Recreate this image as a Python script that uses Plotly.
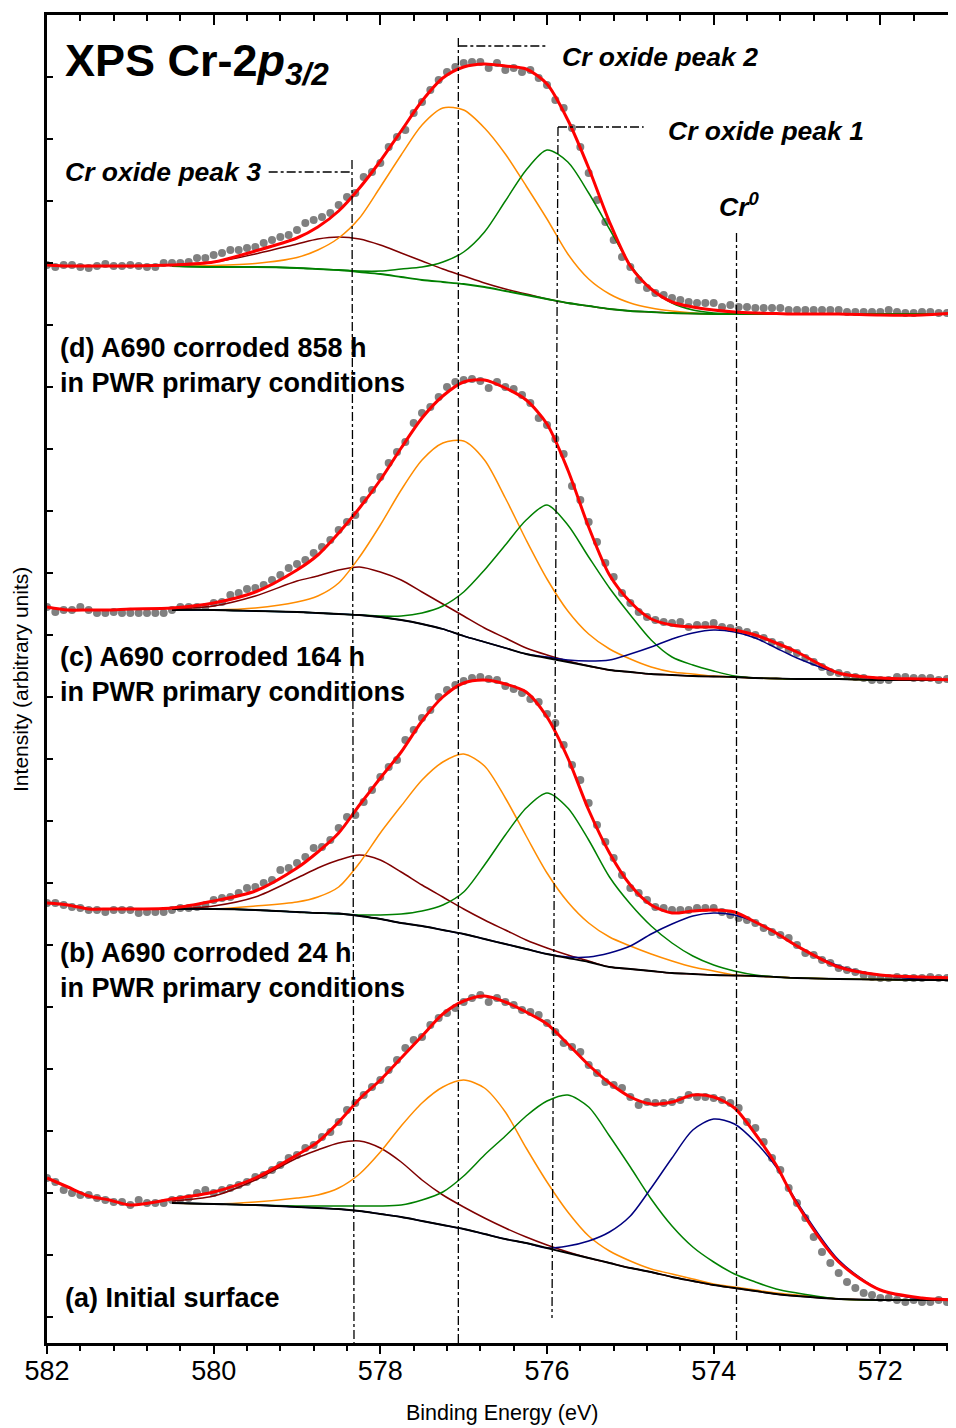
import numpy as np
import plotly.graph_objects as go

N = None
# ---------------- energies ----------------
grid_energy = [582.0, 581.75, 581.5, 581.25, 581.0, 580.5, 580.0, 579.5, 579.0, 578.75, 578.5,
               578.25, 578.0, 577.75, 577.5, 577.25, 577.0, 576.75, 576.5, 576.25, 576.0,
               575.75, 575.5, 575.25, 575.0, 574.75, 574.5, 574.25, 574.0, 573.75, 573.5,
               573.25, 573.0, 572.5, 572.0, 571.5, 571.1]
dot_energy = list(np.round(582.0 - 0.1 * np.arange(110), 1))

# stacking offsets of the four spectra (arbitrary units)
offsets = {"a": 41, "b": 363, "c": 663, "d": 1029}

# ---------------- (d) A690 corroded 858 h ----------------
dots_d = [49,47,49,49,47,46,48,50,48,48, 49,48,47,47,51,51,51,52,56,56,
          59,61,64,64,66,67,71,74,77,79, 84,91,94,97,101,109,117,121,137,142,
          151,167,177,184,201,212,224,234,242,247, 251,252,252,246,251,244,246,242,244,236,
          229,214,206,186,167,141,114,92,74,57, 47,34,26,21,19,16,14,12,11,11,
          11,7,9,7,7,6,6,6,6,4, 4,4,4,4,4,4,2,2,2,2, 2,4,2,1,1,2,2,1,1,1]
env_d = [49,48,48,48,48,49,52,63,76,87,103,126,153,183,213,236,247,250,248,245,230,194,146,92,48,
         25,12,7,4,2,1,0.5,0,0,-1,-1,1]
bg_d = [N,N,N,N,N,48,47,47,46,45,44,42,40,37,34,32,30,27,23,19,15,11,8,5,3,2,1,0.5,0,0,0,0,0,0,0,0,0]
p3_d = [N,N,N,N,N,49,52,60,70,75,77,75,69,61,53,45,38,31,25,20,15,11,8,5,3,2,1,0.5,0,0,0,0,0,0,0,0,0]
p2_d = [N,N,N,N,N,48,48.5,50.5,56.5,64,76,96,127,159,189,206,204,186,160,128,95,60,35,20,11,6,3,1,0,0,0,0,0,0,0,0,0]
p1_d = [N,N,N,N,N,48,47,47,46,45,44,43,43,45,47,52,62,82,113,144,164,152,121,85,49,25,11,4,1,0,0,0,0,0,0,0,0]

# ---------------- (c) A690 corroded 164 h ----------------
dots_c = [73,68,70,70,73,70,67,67,68,67, 67,67,67,67,67,70,73,73,73,73,
          77,78,85,87,91,92,95,100,105,112, 116,120,127,133,140,150,158,165,180,190,
          203,217,228,238,257,267,273,283,293,298, 300,301,299,292,298,293,291,285,277,262,
          255,241,226,194,180,158,138,117,103,87, 77,68,63,60,58,57,58,53,55,55,
          57,53,52,50,48,45,42,38,35,30, 27,22,18,13,8,7,5,3,2,0, 0,0,3,3,2,2,2,0,1,0]
env_c = [73,70,70,70,71,72,77,88,110,125,147,172,200,232,262,284,298,300,292,280,256,210,153,105,78,
         61,55,53,53,50,45,37,28,7,2,1,0]
bg_c = [N,N,N,N,N,70,70,69,68,67,66,65,63,60,56,51,44,38,32,26,22,18,14,10,8,6,5,4,3.5,3,2,1.5,1,1,0,0,0]
p3_c = [N,N,N,N,N,71,74,84,99,104,110,113,108,100,88,76,64,52,42,32,25,19,14,10,8,6,5,4,3.5,3,2,1.5,1,1,0,0,0]
p2_c = [N,N,N,N,N,70,70,72,78,84,97,123,155,190,220,237,239,220,182,140,101,69,46,31,21,13,8,6,4,3,2,1.5,1,1,0,0,0]
p1_c = [N,N,N,N,N,70,70,69,68,67,66,65,64,64,67,74,88,110,135,160,175,155,123,92,65,40,23,15,9,4,2,1.5,1,1,0,0,0]
cr0_c = [N,N,N,N,N,70,70,69,68,67,66,65,63,60,56,51,44,38,32,26,23,20,19,20,26,33,41,47,50,48,42,32,22,7,1,0,0]

# ---------------- (b) A690 corroded 24 h ----------------
dots_b = [77,77,75,73,72,70,70,68,70,70, 70,67,68,68,68,70,72,72,73,75,
          80,82,83,87,92,93,97,100,110,112, 117,123,132,133,140,152,163,165,178,190,
          203,213,220,240,250,262,270,283,290,295, 299,302,303,301,300,294,291,287,281,278,
          266,257,235,215,200,177,155,138,122,105, 92,87,80,73,72,70,70,70,72,72,
          72,68,65,62,60,57,52,48,45,42, 35,27,25,20,17,12,10,8,5,3, 2,2,3,2,2,2,3,2,2,2]
env_b = [77,75,71,71,71,72,79,89,112,128,147,175,202,228,259,283,297,300,296,288,263,222,170,127,95,
         75,67,69,70,68,58,47,34,13,5,3,2]
bg_b = [N,N,N,N,N,71,71,70,68,67,66.5,64,61,57,54,50,46,41,36,31,26,22,18,13,11,9,7,6,5,4.5,4,3,2,1,0.5,0,0]
p3_b = [N,N,N,N,N,71,74,83,102,112,120,125,120,108,95,83,71,60,50,40,32,25,19,13,11,9,7,6,5,4.5,4,3,2,1,0.5,0,0]
p2_b = [N,N,N,N,N,71,71,74,78,83,93,117,147,174,200,218,226,214,182,144,107,78,57,43,34,26,19,13,9,5,4,3,2,1,0.5,0,0]
p1_b = [N,N,N,N,N,71,71,70,68,67,66,65,65,66,69,75,88,115,145,172,187,172,140,103,76,54,37,24,15,9,5,3,2,1,0.5,0,0]
cr0_b = [N,N,N,N,N,71,71,70,68,67,66.5,64,61,57,54,50,46,41,36,31,26,23,23,27,34,46,56,64,67,65,58,47,34,14,5,1,0]

# ---------------- (a) Initial surface ----------------
dots_a = [124,120,112,109,107,107,104,102,100,100, 97,102,99,99,99,102,103,104,109,112,
          109,112,114,117,120,125,127,132,137,144, 147,154,157,165,170,180,192,199,207,215,
          222,232,242,254,262,265,277,284,289,294, 300,304,307,300,304,300,297,292,290,287,
          279,270,259,255,250,237,229,220,217,214, 205,197,200,199,199,200,202,207,205,205,
          204,202,199,194,180,174,160,144,132,114, 99,84,65,50,39,29,20,14,9,7, 4,4,2,0,2,0,0,2,0,0]
env_a = [124,115,106,102,97,103,110,124,147,160,180,203,222,244,266,288,301,306,300,290,278,258,237,219,205,
         198,200,207,205,194,168,137,98,40,12,4,2]
bg_a = [N,N,N,N,N,99,98,97,95,94,93,91,88,85,81,77,73,68,63,59,54,49,44,39,34,30,25,21,17,14,11,8,6,3,2,2,2]
p3_a = [N,N,N,N,N,101,106,122,144,152,159,161,154,140,122,107,95,84,74,65,57,50,44,39,34,30,25,21,17,14,11,8,6,3,2,2,2]
p2_a = [N,N,N,N,N,99,98,100,104,107,114,128,150,176,199,215,222,214,190,154,120,90,66,51,41,33,28,23,18,15,12,9,7,3,2,2,2]
p1_a = [N,N,N,N,N,99,98,97,96,96,96,96,96,97,102,110,126,147,166,186,201,207,195,166,135,103,76,55,40,28,20,13,9,3,2,2,2]
cr0_a = [N,N,N,N,N,99,98,97,95,94,93,91,88,85,81,77,73,68,63,59,54,56,61,70,86,114,144,172,183,178,160,135,100,42,12,3,2]

# reference lines: peak energies (eV)
peak_labels = ["Cr oxide peak 3", "Cr oxide peak 2", "Cr oxide peak 1", "Cr<sup>0</sup>"]
peak_energy_top = [578.34, 577.064, 575.868, 573.726]
peak_energy_bottom = [578.316, 577.064, 575.94, 573.726]

spectra = [
    ("a", dots_a, env_a, bg_a, [p3_a, p2_a, p1_a, cr0_a], "black"),
    ("b", dots_b, env_b, bg_b, [p3_b, p2_b, p1_b, cr0_b], "black"),
    ("c", dots_c, env_c, bg_c, [p3_c, p2_c, p1_c, cr0_c], "black"),
    ("d", dots_d, env_d, bg_d, [p3_d, p2_d, p1_d, None], "#008000"),
]
comp_colors = ["#7f0000", "#ff8c00", "#008000", "#00007f"]


def shift(vals, off):
    return [None if v is None else v + off for v in vals]


fig = go.Figure()
for key, dots, env, bg, comps, bgcol in spectra:
    off = offsets[key]
    fig.add_trace(go.Scatter(x=dot_energy, y=shift(dots, off), mode="markers",
                             marker=dict(color="#808080", size=8), showlegend=False))
    for comp, col in zip(comps, comp_colors):
        if comp is None:
            continue
        fig.add_trace(go.Scatter(x=grid_energy, y=shift(comp, off), mode="lines",
                                 line=dict(color=col, width=1.5, shape="spline", smoothing=0.8),
                                 showlegend=False))
    fig.add_trace(go.Scatter(x=grid_energy, y=shift(bg, off), mode="lines",
                             line=dict(color=bgcol, width=1.8, shape="spline", smoothing=0.8),
                             showlegend=False))
    fig.add_trace(go.Scatter(x=grid_energy, y=shift(env, off), mode="lines",
                             line=dict(color="#ff0000", width=3, shape="spline", smoothing=0.8),
                             showlegend=False, xaxis="x2" if key == "d" else "x"))

# -------- dash-dot reference lines --------
line_top = [1183, 1305, 1216, 1110]
line_bottom = [0, 0, 25, 0]
dd = dict(color="black", width=1.3, dash="dashdot")
for et, eb, yt, yb in zip(peak_energy_top, peak_energy_bottom, line_top, line_bottom):
    fig.add_shape(type="line", xref="x", yref="y", x0=et, x1=eb, y0=yt, y1=yb, line=dd)
# horizontal leaders to labels
fig.add_shape(type="line", xref="x", yref="y", x0=579.34, x1=peak_energy_top[0], y0=1171, y1=1171, line=dd)
fig.add_shape(type="line", xref="x", yref="y", x0=peak_energy_top[1], x1=576.02, y0=1297, y1=1297, line=dd)
fig.add_shape(type="line", xref="x", yref="y", x0=peak_energy_top[2], x1=574.84, y0=1216, y1=1216, line=dd)

FONT = "Liberation Sans, Arial, Helvetica, sans-serif"
lab = dict(family=FONT, size=26.5, color="black")
fig.add_annotation(x=579.408, y=1171, xref="x", yref="y", text="<b><i>" + peak_labels[0] + "</i></b>",
                   showarrow=False, xanchor="right", yanchor="middle", font=lab)
fig.add_annotation(x=575.844, y=1286, xref="x", yref="y", text="<b><i>" + peak_labels[1] + "</i></b>",
                   showarrow=False, xanchor="left", yanchor="middle", font=lab)
fig.add_annotation(x=574.572, y=1212, xref="x", yref="y", text="<b><i>" + peak_labels[2] + "</i></b>",
                   showarrow=False, xanchor="left", yanchor="middle", font=lab)
fig.add_annotation(x=573.70, y=1138, xref="x", yref="y", text="<b><i>" + peak_labels[3] + "</i></b>",
                   showarrow=False, xanchor="center", yanchor="middle", font=lab)

big = dict(family=FONT, size=27, color="black")
spec_labels = [
    ("(d) A690 corroded 858 h<br>in PWR primary conditions", 581.868, 978),
    ("(c) A690 corroded 164 h<br>in PWR primary conditions", 581.868, 669),
    ("(b) A690 corroded 24 h<br>in PWR primary conditions", 581.868, 373),
    ("(a) Initial surface", 581.808, 45),
]
for txt, xe, yv in spec_labels:
    fig.add_annotation(x=xe, y=yv, xref="x", yref="y", text="<b>" + txt + "</b>", showarrow=False,
                       xanchor="left", yanchor="middle", align="left", font=big)

fig.add_annotation(x=581.808, y=1280, xref="x", yref="y",
                   text="<b>XPS Cr-2<i>p</i><sub><i>3/2</i></sub></b>", showarrow=False,
                   xanchor="left", yanchor="middle", font=dict(family=FONT, size=45, color="black"))

# axis titles (plot area is 901 x 1328 px)
fig.add_annotation(x=0.505, y=-0.0527, xref="paper", yref="paper", text="Binding Energy (eV)",
                   showarrow=False, xanchor="center", yanchor="middle",
                   font=dict(family=FONT, size=21.5, color="black"))
fig.add_annotation(x=-0.03, y=0.5, xref="paper", yref="paper", text="Intensity (arbitrary units)",
                   showarrow=False, xanchor="center", yanchor="middle", textangle=-90,
                   font=dict(family=FONT, size=21, color="black"))

xr = [582, 571.188]
fig.update_layout(
    width=940, height=1420,
    margin=dict(l=39, r=0, t=7, b=85),
    paper_bgcolor="white", plot_bgcolor="white",
    xaxis=dict(range=xr, showline=True, linecolor="black", linewidth=2.5,
               ticks="outside", ticklen=8, tickwidth=2, tickcolor="black",
               tick0=0, dtick=2, showgrid=False, zeroline=False, ticklabelstandoff=-6,
               tickfont=dict(family=FONT, size=27, color="black"),
               minor=dict(ticks="outside", ticklen=5, tickwidth=1.5, tickcolor="black", dtick=0.4, tick0=0)),
    xaxis2=dict(range=xr, overlaying="x", side="top", matches="x", showline=True, linecolor="black",
                linewidth=2.5, ticks="inside", ticklen=10, tickwidth=2, tickcolor="black",
                tick0=0, dtick=2, showticklabels=False, showgrid=False, zeroline=False,
                minor=dict(ticks="inside", ticklen=6, tickwidth=1.5, tickcolor="black", dtick=0.4, tick0=0)),
    yaxis=dict(range=[0, 1328], showline=True, linecolor="black", linewidth=2.5,
               ticks="inside", ticklen=6, tickwidth=1.5, tickcolor="black", tick0=26, dtick=62,
               showticklabels=False, showgrid=False, zeroline=False),
)

fig.write_html("out.html")
